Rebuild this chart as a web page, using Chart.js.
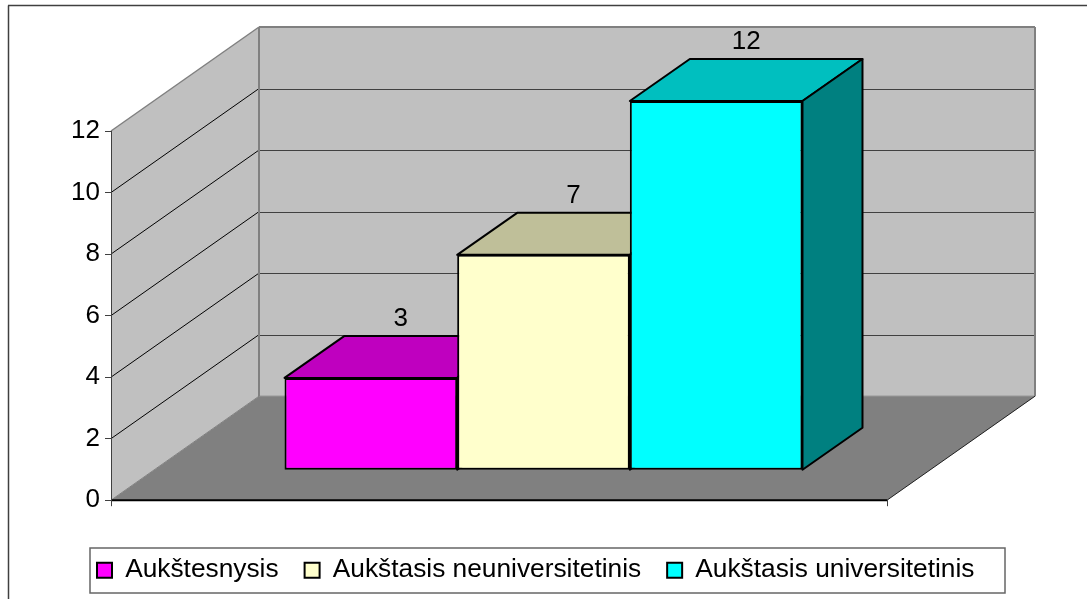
<!DOCTYPE html>
<html>
<head>
<meta charset="utf-8">
<style>
  html, body { margin: 0; padding: 0; background: #ffffff; }
  canvas { display: block; }
</style>
<script src="https://cdn.jsdelivr.net/npm/chart.js@4/dist/chart.umd.min.js"></script>
</head>
<body>
<canvas id="chart" width="1087" height="599"></canvas>
<script>
// Education level counts, one bar per level.
const levels = ['Aukštesnysis', 'Aukštasis neuniversitetinis', 'Aukštasis universitetinis'];
const counts = [3, 7, 12];
const frontColors = ['#FF00FF', '#FFFFCC', '#00FFFF'];
const topColors = ['#BF00BF', '#BFBF99', '#00BFBF'];
const sideColors = ['#800080', '#808066', '#008080'];

const FONT = 'Liberation Sans, Arial, sans-serif';
const wallDepth = { x: 148, y: -104 };   // floor/wall receding vector
const barShift = { x: 44.5, y: -30 };    // bars stand partway into the floor
const barDepth = { x: 60, y: -42 };      // receding vector of a single bar

function poly(ctx, pts, fill, stroke, lw) {
  ctx.beginPath();
  pts.forEach((p, i) => (i ? ctx.lineTo(p[0], p[1]) : ctx.moveTo(p[0], p[1])));
  ctx.closePath();
  if (fill) { ctx.fillStyle = fill; ctx.fill(); }
  if (stroke) { ctx.strokeStyle = stroke; ctx.lineWidth = lw; ctx.lineJoin = 'round'; ctx.stroke(); }
}

function line(ctx, x1, y1, x2, y2, color, lw) {
  ctx.beginPath();
  ctx.moveTo(x1, y1);
  ctx.lineTo(x2, y2);
  ctx.strokeStyle = color;
  ctx.lineWidth = lw;
  ctx.stroke();
}

// Frame, legend panel, walls and floor of the box behind the bars.
const stage = {
  id: 'stage',
  afterLayout(chart) {
    const lg = chart.legend;
    lg.left = 71; lg.right = 1087; lg.top = 531; lg.bottom = 599;
  },
  beforeDraw(chart) {
    const { ctx, chartArea: a, scales: { y } } = chart;
    const dx = wallDepth.x, dy = wallDepth.y;
    ctx.save();
    ctx.fillStyle = '#ffffff';
    ctx.fillRect(0, 0, chart.width, chart.height);

    // outer frame: left and top edges only
    line(ctx, 8.5, 5.5, 8.5, chart.height, '#404040', 1.5);
    line(ctx, 8, 5.5, chart.width, 5.5, '#404040', 1.5);

    // legend panel
    ctx.fillStyle = '#ffffff';
    ctx.fillRect(90, 548, 915, 45);
    ctx.strokeStyle = '#666666';
    ctx.lineWidth = 1.5;
    ctx.strokeRect(90, 548, 915, 45);

    const l = a.left, r = a.right, t = y.getPixelForValue(12), b = y.getPixelForValue(0);
    // floor
    poly(ctx, [[l, b], [r, b], [r + dx, b + dy], [l + dx, b + dy]], '#808080');
    // side wall and back wall
    poly(ctx, [[l, b], [l, t], [l + dx, t + dy], [l + dx, b + dy]], '#C0C0C0');
    poly(ctx, [[l + dx, b + dy], [l + dx, t + dy], [r + dx, t + dy], [r + dx, b + dy]], '#C0C0C0');

    // gridlines run along the side wall and across the back wall
    y.ticks.forEach(tk => {
      if (tk.value === 0 || tk.value === 12) return;
      const py = y.getPixelForValue(tk.value);
      line(ctx, l, py, l + dx, py + dy, '#000000', 1);
      line(ctx, l + dx, Math.round(py + dy) + 0.5, r + dx, Math.round(py + dy) + 0.5, '#404040', 1);
    });

    // wall edges
    line(ctx, l, t, l + dx, t + dy, '#808080', 1.5);
    line(ctx, l, b, l + dx, b + dy, '#808080', 1);
    line(ctx, l + dx, t + dy, l + dx, b + dy, '#808080', 2);
    line(ctx, l + dx, t + dy, r + dx, t + dy, '#808080', 2);
    line(ctx, r + dx, t + dy, r + dx, b + dy, '#808080', 2);
    line(ctx, l + dx, b + dy, r + dx, b + dy, '#808080', 1);
    // front floor edges
    line(ctx, r, b, r + dx, b + dy, '#202020', 1);
    line(ctx, l, b, r, b, '#000000', 2);
    ctx.restore();
  },
  // Depth faces go down first; the front faces drawn by the library then hide what they overlap.
  beforeDatasetsDraw(chart) {
    const { ctx } = chart;
    ctx.save();
    ctx.translate(barShift.x, barShift.y);
    chart.data.datasets.forEach((ds, i) => {
      const bar = chart.getDatasetMeta(i).data[0];
      const xl = bar.x - bar.width / 2, xr = bar.x + bar.width / 2;
      const yt = bar.y, yb = bar.base;
      const dx = barDepth.x, dy = barDepth.y;
      poly(ctx, [[xl, yt], [xr, yt], [xr + dx, yt + dy], [xl + dx, yt + dy]], topColors[i], '#000000', 2);
      poly(ctx, [[xr, yt], [xr + dx, yt + dy], [xr + dx, yb + dy], [xr, yb]], sideColors[i], '#000000', 2);
    });
  },
  afterDatasetsDraw(chart) {
    const { ctx } = chart;
    ctx.fillStyle = '#000000';
    ctx.font = '26px ' + FONT;
    ctx.textAlign = 'center';
    ctx.textBaseline = 'middle';
    chart.data.datasets.forEach((ds, i) => {
      const bar = chart.getDatasetMeta(i).data[0];
      ctx.fillText(String(ds.data[0]), bar.x + barDepth.x / 2, bar.y + barDepth.y - 17);
    });
    ctx.restore();
  }
};

new Chart(document.getElementById('chart'), {
  type: 'bar',
  data: {
    labels: [''],
    datasets: levels.map((name, i) => ({
      label: name,
      data: [counts[i]],
      backgroundColor: frontColors[i],
      borderColor: '#000000',
      borderWidth: 2,
      borderSkipped: false,
      clip: false
    }))
  },
  options: {
    responsive: false,
    animation: false,
    events: [],
    layout: { padding: { top: 131, bottom: 29.5, left: 0, right: 0 } },
    categoryPercentage: 0.6675,
    barPercentage: 1,
    scales: {
      x: {
        offset: true,
        ticks: { display: false },
        grid: { offset: true, drawOnChartArea: false, drawTicks: true, tickLength: 6, color: '#404040' },
        border: { display: false },
        afterFit(s) { s.height = 7; }
      },
      y: {
        min: 0,
        max: 12,
        ticks: { stepSize: 2, color: '#000000', padding: 5, font: { family: FONT, size: 26 } },
        grid: { drawOnChartArea: false, drawTicks: true, tickLength: 6, color: '#404040' },
        border: { display: true, color: '#404040', width: 1 },
        afterFit(s) { s.width = 111; }
      },
      // empty margin to the right of the front plane, taken up by the receding floor
      margin: {
        position: 'right',
        ticks: { display: false },
        grid: { display: false },
        border: { display: false },
        afterFit(s) { s.width = 200; }
      }
    },
    plugins: {
      tooltip: { enabled: false },
      title: { display: false },
      legend: {
        display: true,
        position: 'bottom',
        align: 'start',
        labels: {
          color: '#000000',
          boxWidth: 15,
          boxHeight: 15,
          padding: 26,
          font: { family: FONT, size: 26.3 }
        }
      }
    }
  },
  plugins: [stage]
});
</script>
</body>
</html>
